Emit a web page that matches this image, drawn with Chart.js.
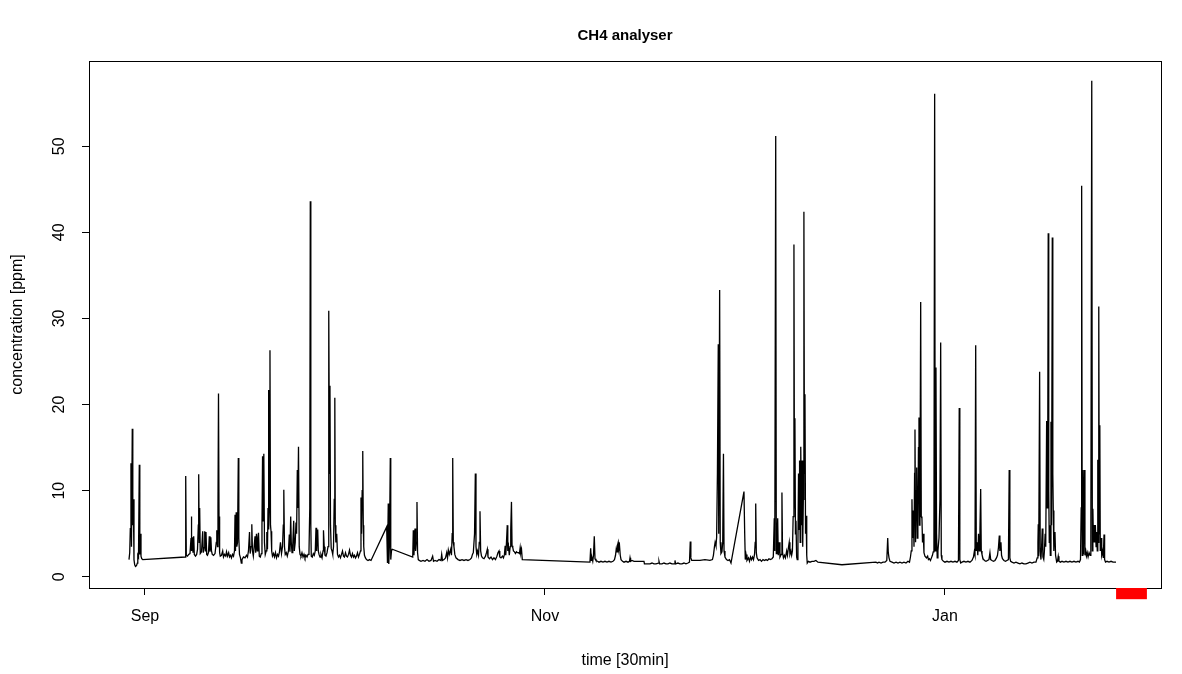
<!DOCTYPE html>
<html>
<head>
<meta charset="utf-8">
<script src="https://cdn.jsdelivr.net/npm/chart.js@4.4.1/dist/chart.umd.min.js"></script>
<style>
html, body { margin: 0; padding: 0; background: #fff; }
canvas { display: block; }
</style>
</head>
<body>
<canvas id="ch4" width="1182" height="674"></canvas>
<script>
// ── Labels / axes ──
var TITLE = "CH4 analyser";
var X_TITLE = "time [30min]";
var Y_TITLE = "concentration [ppm]";
var X_TICK_DAYS = [0, 61, 122];          // days after 1 Sep
var X_TICK_LABELS = ["Sep", "Nov", "Jan"];
var Y_TICKS = [0, 10, 20, 30, 40, 50];
var X_RANGE = [-8.54, 154.95];
var Y_RANGE = [-1.3, 59.9];
var RED_BAR_DAYS = [148.1, 152.8];
var RED_BAR_PPM = [-1.3, -2.6];

// ── Series: [day after 1 Sep, CH4 ppm] ──
var CH4_LATE_AUG = [
  [-2.44,2.0],[-2.33,2.8],[-2.24,5.6],[-2.14,13.2],[-2.06,3.5],[-1.94,17.2],[-1.86,6.0],[-1.78,9.0],
  [-1.68,2.0],[-1.57,1.4],[-1.45,1.2],[-1.30,1.3],[-1.17,1.6],[-1.10,2.5],[-0.99,2.3],[-0.87,13.0],
  [-0.79,2.6],[-0.72,5.0],[-0.61,2.4],[-0.50,2.1],[-0.35,2.0]
];
var CH4_SEP = [
  [6.15,2.3],[6.21,11.7],[6.30,2.5],[6.48,2.4],[6.66,2.6],[6.86,2.7],[7.02,4.5],[7.06,7.0],[7.14,3.0],
  [7.24,4.6],[7.32,2.8],[7.43,4.7],[7.52,2.6],[7.70,2.4],[7.88,2.6],[8.01,3.2],[8.13,6.0],[8.19,11.9],
  [8.27,4.0],[8.34,8.0],[8.43,2.7],[8.62,2.9],[8.80,5.3],[8.89,2.8],[9.00,3.4],[9.11,5.3],[9.21,3.0],
  [9.30,5.2],[9.41,2.6],[9.53,2.5],[9.68,2.8],[9.81,4.7],[9.91,2.9],[10.04,4.6],[10.14,3.0],[10.26,2.6],
  [10.45,2.5],[10.68,2.7],[10.87,4.0],[10.95,5.4],[11.06,3.5],[11.13,8.0],[11.21,21.3],[11.29,7.0],
  [11.38,2.8],[11.48,2.4],[11.67,2.5],[11.85,3.0],[11.97,2.3],[12.13,2.6],[12.31,2.4],[12.43,2.9],
  [12.58,2.4],[12.76,2.8],[12.89,2.3],[13.04,2.5],[13.19,2.2],[13.34,2.6],[13.50,2.4],[13.65,3.0],
  [13.73,7.2],[13.80,3.0],[13.91,7.5],[14.00,3.5],[14.11,4.0],[14.23,13.8],[14.31,4.5],[14.41,2.6],
  [14.56,2.2],[14.69,1.6],[14.79,2.0],[15.02,2.3],[15.25,2.2],[15.48,2.5],[15.63,2.3],[15.78,3.0],
  [15.94,5.2],[16.04,2.7],[16.17,3.5],[16.29,6.1],[16.39,3.0],[16.52,2.4],[16.65,3.5],[16.78,4.7],
  [16.88,2.8],[17.00,5.0],[17.11,3.0],[17.23,4.6],[17.31,5.1],[17.43,2.4],[17.58,2.3],[17.74,2.7],
  [17.84,6.0],[17.93,14.0],[18.02,6.5],[18.12,14.3],[18.22,4.0],[18.34,2.6],[18.48,3.0],[18.58,5.2],
  [18.68,3.2],[18.76,8.0],[18.82,21.7],[18.90,5.5],[18.99,9.0],[19.06,26.3],[19.14,6.0],[19.22,5.3],
  [19.32,3.0],[19.44,2.4],[19.60,2.7],[19.75,2.3],[19.90,2.8],[20.06,2.2],[20.21,2.6],[20.36,2.4],
  [20.51,2.9],[20.66,4.0],[20.82,2.7],[20.97,3.5],[21.09,6.0],[21.17,10.1],[21.27,3.5],[21.39,2.6],
  [21.55,2.8],[21.70,2.4],[21.88,3.0],[22.01,4.9],[22.11,2.9],[22.22,7.0],[22.31,4.0],[22.42,2.8],
  [22.54,3.8],[22.68,6.5],[22.77,3.0],[22.91,4.0],[23.03,6.3],[23.12,5.0],[23.23,12.4],[23.31,8.0],
  [23.41,15.1],[23.52,3.5],[23.64,2.6],[23.79,2.4],[23.94,2.8],[24.10,2.3],[24.25,2.6],[24.40,2.2],
  [24.55,2.5],[24.71,2.3],[24.86,2.6],[25.01,2.9],[25.13,8.0],[25.21,43.6],[25.29,6.0],[25.36,2.4],
  [25.51,2.3],[25.67,2.7],[25.82,2.5],[25.97,3.0],[26.08,5.7],[26.17,3.0],[26.26,4.5],[26.34,5.5],
  [26.43,3.0],[26.54,2.6],[26.69,2.3],[26.84,2.6],[27.00,2.2],[27.15,3.0],[27.22,5.4],[27.33,3.5],
  [27.45,2.5],[27.60,2.4],[27.76,2.8],[27.91,3.5],[27.99,7.0],[28.06,30.9],[28.14,12.0],[28.21,22.2],
  [28.29,6.0],[28.40,3.3],[28.52,3.0],[28.63,2.6],[28.75,3.5],[28.86,9.0],[28.95,20.8],[29.02,6.0],
  [29.11,4.0],[29.24,5.0],[29.36,2.6],[29.51,2.3],[29.66,2.5],[29.81,2.2],[29.97,2.6],[30.12,3.0],
  [30.27,2.4],[30.42,2.3],[30.58,2.8],[30.73,2.4],[30.88,2.3],[31.04,2.6],[31.19,3.1],[31.34,2.5],
  [31.49,2.3],[31.64,2.7],[31.80,2.3],[31.95,2.5],[32.10,2.2],[32.25,2.4],[32.41,2.8],[32.56,2.3],
  [32.71,2.6],[32.86,3.0],[32.94,9.2],[33.02,5.0],[33.12,10.0],[33.21,14.6],[33.29,6.0],[33.36,3.5],
  [33.47,2.5],[33.62,2.2],[33.78,2.0],[34.01,1.9],[34.24,2.0],[34.47,1.9]
];
var CH4_OCT = [
  [36.86,5.8],[36.98,1.6],[37.10,8.5],[37.18,1.5],[37.29,4.0],[37.41,13.8],[37.48,2.0],[37.59,3.0],
  [37.71,3.2],[40.83,2.3],[40.92,5.4],[41.02,2.5],[41.18,5.6],[41.27,3.0],[41.37,4.0],[41.48,8.7],
  [41.57,2.8],[41.68,2.0],[41.83,1.9],[42.09,1.8],[42.40,1.9],[42.70,1.8],[43.01,2.0],[43.31,1.8],
  [43.62,1.9],[43.87,2.4],[44.00,1.8],[44.23,1.9],[44.54,1.8],[44.84,2.0],[45.14,1.9],[45.25,2.6],
  [45.37,1.9],[45.60,2.0],[45.83,2.2],[46.01,2.8],[46.14,2.2],[46.26,3.1],[46.41,2.6],[46.62,3.2],
  [46.74,2.5],[46.85,5.0],[46.93,13.8],[47.02,4.0],[47.12,3.5],[47.25,2.6],[47.43,2.2],[47.74,2.0],
  [48.04,1.9],[48.35,2.0],[48.65,1.9],[48.96,2.0],[49.26,1.9],[49.56,2.0],[49.79,2.2],[49.94,2.6],
  [50.07,2.8],[50.26,5.0],[50.38,12.0],[50.48,3.5],[50.60,2.6],[50.71,3.0],[50.86,2.5],[50.98,4.0],
  [51.09,7.6],[51.19,3.0],[51.32,2.4],[51.47,2.2],[51.70,2.1],[51.93,2.4],[52.08,2.8],[52.21,3.2],
  [52.31,2.3],[52.54,2.1],[52.77,2.3],[53.00,2.0],[53.22,2.2],[53.45,2.0],[53.68,2.4],[53.83,2.8],
  [53.99,3.0],[54.11,2.3],[54.29,2.2],[54.52,2.4],[54.67,2.2],[54.82,2.6],[54.93,3.6],[55.02,2.5],
  [55.13,4.0],[55.25,6.0],[55.33,3.0],[55.44,3.5],[55.56,2.5],[55.69,3.5],[55.78,5.5],[55.89,8.7],
  [55.98,3.6],[56.09,3.4],[56.19,3.0],[56.35,2.9],[56.50,2.7],[56.65,2.9],[56.81,2.8],[56.96,2.8],
  [57.11,2.7],[57.22,3.4],[57.31,2.8],[57.42,3.2],[57.54,2.0]
];
var CH4_NOV = [
  [67.86,1.7],[67.97,3.3],[68.06,1.9],[68.17,2.2],[68.29,1.8],[68.40,2.5],[68.52,4.7],[68.63,2.1],
  [68.78,1.9],[69.01,1.8],[69.24,1.7],[69.54,1.8],[69.85,1.7],[70.15,1.8],[70.46,1.7],[70.76,1.8],
  [71.07,1.7],[71.37,1.8],[71.60,2.0],[71.76,2.5],[71.88,3.3],[71.99,2.9],[72.08,3.7],[72.17,4.0],
  [72.26,3.2],[72.37,3.6],[72.48,2.5],[72.60,2.0],[72.83,1.8],[73.05,1.7],[73.36,1.8],[73.66,1.7],
  [73.89,1.8],[73.97,2.2],[74.06,1.8],[74.27,1.9],[74.58,1.8],[74.88,1.8],[76.10,1.8],[76.17,1.5],
  [76.55,1.5],[77.01,1.5],[77.32,1.6],[77.62,1.5],[77.93,1.5],[78.31,1.6],[78.39,1.8],[78.48,1.5],
  [78.85,1.5],[79.15,1.6],[79.46,1.5],[79.76,1.5],[80.06,1.6],[80.37,1.5],[80.75,1.5],[80.83,1.9],
  [80.92,1.5],[81.28,1.6],[81.59,1.5],[81.89,1.5],[82.20,1.6],[82.50,1.5],[82.81,1.6],[83.04,1.7],
  [83.16,4.1],[83.25,2.2],[83.38,1.9],[83.88,1.9],[84.64,1.9],[85.40,2.0],[86.16,1.9],[86.54,2.0],
  [86.69,2.5],[86.85,3.5],[86.95,4.0],[87.08,3.6],[87.18,4.6],[87.30,12.0],[87.43,27.0],[87.50,5.0],
  [87.64,33.3],[87.73,4.0],[87.84,2.7],[87.99,2.9],[88.11,4.0],[88.22,14.3],[88.31,3.0],[88.45,2.3],
  [88.68,2.0],[88.91,1.9],[89.14,2.0],[89.37,1.6],[91.35,9.9],[91.46,5.0],[91.55,2.0],[91.66,2.6],
  [91.81,1.9],[92.04,2.2],[92.19,1.8],[92.35,2.3],[92.50,2.0],[92.65,2.3],[92.80,2.0],[92.96,2.6],
  [93.06,4.0],[93.14,8.5],[93.23,2.8],[93.34,2.2],[93.57,1.9],[93.80,2.0],[94.02,1.8],[94.25,2.0],
  [94.48,1.9],[94.71,2.0],[94.94,1.9],[95.16,2.1],[95.39,2.0],[95.62,2.1],[95.82,2.3],[95.97,6.8],
  [96.05,3.0],[96.19,51.2],[96.28,2.7],[96.38,3.2],[96.49,6.8],[96.58,2.5],[96.73,4.0],[96.84,2.3],
  [97.02,2.6],[97.14,9.8],[97.23,2.8],[97.37,2.2],[97.52,2.5],[97.67,2.2],[97.86,3.0],[97.98,2.5],
  [98.13,3.4],[98.25,4.0],[98.36,2.6],[98.51,3.0],[98.62,2.5],[98.74,3.0],[98.85,7.0],[98.97,38.6],
  [99.05,8.0],[99.12,18.4],[99.20,5.0],[99.28,6.5],[99.38,2.3],[99.47,2.0],[99.58,4.0],[99.67,12.0],
  [99.75,5.5],[99.83,13.5],[99.92,4.0],[100.01,15.1],[100.12,6.0],[100.22,13.5],[100.31,3.5],
  [100.40,9.0],[100.49,42.4],[100.57,12.0],[100.65,21.2],[100.74,5.0],[100.83,7.1],[100.92,2.5],
  [101.00,1.6],[101.18,1.8],[101.41,1.7],[101.71,1.8],[102.02,1.8],[102.32,1.9],[102.63,1.7]
];
var CH4_DEC = [
  [106.29,1.4],[111.48,1.7],[111.71,1.6],[111.94,1.7],[112.25,1.6],[112.55,1.7],[112.86,1.7],
  [113.13,1.9],[113.27,4.5],[113.36,2.8],[113.47,2.2],[113.62,1.8],[113.93,1.7],[114.23,1.6],
  [114.54,1.7],[114.84,1.6],[115.14,1.7],[115.45,1.6],[115.75,1.7],[116.06,1.6],[116.36,1.8],
  [116.59,1.7],[116.74,2.3],[116.86,3.0],[116.97,9.0],[117.05,4.5],[117.17,7.7],[117.28,3.5],
  [117.37,12.0],[117.43,17.1],[117.52,4.0],[117.61,10.0],[117.69,12.7],[117.78,4.5],[117.87,6.0],
  [117.96,15.0],[118.04,18.5],[118.11,6.0],[118.19,8.0],[118.30,31.9],[118.39,7.0],[118.49,6.8],
  [118.58,4.0],[118.69,5.0],[118.80,2.8],[118.95,2.4],[119.18,2.2],[119.36,2.4],[119.48,2.0],
  [119.63,2.1],[119.79,1.9],[119.94,2.2],[120.09,2.5],[120.21,2.9],[120.32,5.0],[120.43,56.1],
  [120.52,3.0],[120.63,24.3],[120.72,5.0],[120.82,2.2],[120.93,3.0],[121.09,4.5],[121.24,9.0],
  [121.35,27.2],[121.44,2.5],[121.54,2.0],[121.77,1.8]
];
var CH4_JAN = [
  [122.00,1.7],[122.31,1.8],[122.61,1.7],[122.92,1.8],[123.22,1.7],[123.53,1.8],[123.83,1.7],
  [124.06,1.9],[124.18,19.6],[124.27,2.0],[124.40,1.6],[124.59,1.7],[124.90,1.8],[125.20,1.7],
  [125.51,1.8],[125.81,1.7],[126.12,1.9],[126.35,2.3],[126.47,2.9],[126.58,2.5],[126.69,26.9],
  [126.78,3.0],[126.89,4.0],[127.01,2.5],[127.12,5.0],[127.24,3.0],[127.34,5.5],[127.45,10.2],
  [127.54,3.0],[127.65,2.6],[127.80,2.1],[128.03,1.9],[128.26,1.8],[128.49,1.9],[128.71,2.0],
  [128.86,2.8],[128.97,2.0],[129.17,1.9],[129.40,1.8],[129.63,1.9],[129.86,2.2],[130.01,2.5],
  [130.16,3.4],[130.29,4.8],[130.38,3.0],[130.46,3.6],[130.54,4.0],[130.63,2.5],[130.77,2.1],
  [131.00,1.9],[131.23,1.8],[131.45,1.9],[131.68,2.0],[131.80,12.4],[131.90,2.2],[132.02,1.8],
  [132.22,1.7],[132.53,1.6],[132.83,1.7],[133.14,1.6],[133.44,1.5],[133.74,1.6],[134.05,1.5],
  [134.35,1.5],[134.66,1.6],[134.96,1.7],[135.27,1.6],[135.57,1.7],[135.88,1.7],[136.07,2.2],
  [136.18,4.0],[136.23,6.1],[136.30,2.4],[136.44,23.8],[136.53,3.0],[136.64,2.0],[136.74,3.5],
  [136.84,5.6],[136.94,2.3],[137.07,2.0],[137.17,3.0],[137.28,5.0],[137.37,3.5],[137.51,18.1],
  [137.58,8.0],[137.68,15.0],[137.75,39.9],[137.83,10.0],[137.91,4.0],[137.98,6.0],[138.07,2.5],
  [138.17,18.0],[138.26,6.0],[138.37,39.4],[138.45,12.0],[138.52,7.7],[138.61,3.0],[138.70,5.0],
  [138.78,5.2],[138.87,2.5],[139.04,1.7],[139.16,1.8],[139.28,2.4],[139.39,1.8],[139.62,1.7],
  [139.85,1.8],[140.15,1.7],[140.46,1.8],[140.76,1.7],[141.07,1.8],[141.37,1.7],[141.68,1.8],
  [141.98,1.7],[142.29,1.8],[142.51,1.7],[142.67,2.0],[142.78,8.0],[142.85,45.4],[142.94,2.5],
  [143.03,12.4],[143.12,2.6],[143.25,12.4],[143.35,2.5],[143.48,3.0],[143.58,2.4],[143.70,2.8],
  [143.83,2.3],[143.98,2.8],[144.13,2.5],[144.25,4.0],[144.39,57.6],[144.48,3.0],[144.56,7.9],
  [144.65,4.0],[144.75,6.0],[144.84,4.0],[144.94,6.0],[145.05,3.5],[145.16,5.2],[145.23,3.0],
  [145.31,13.6],[145.39,4.0],[145.46,31.4],[145.54,5.0],[145.62,17.6],[145.69,3.0],[145.80,4.5],
  [145.91,2.5],[146.06,3.0],[146.15,2.2],[146.26,4.9],[146.35,2.0],[146.49,1.7],[146.72,1.8],
  [147.02,1.7],[147.33,1.8],[147.63,1.7],[147.94,1.7],[148.09,1.7]
];

var FONT_FAMILY = '"Liberation Sans", Arial, Helvetica, sans-serif';

function _toPoints() {
  var all = [].concat(CH4_LATE_AUG, CH4_SEP, CH4_OCT, CH4_NOV, CH4_DEC, CH4_JAN);
  return all.map(function(p) { return { x: p[0], y: p[1] }; });
}

// Frame, axis texts (R-style rotated y labels) and the red marker
var rDecor = {
  id: "rDecor",
  afterDraw: function(chart) {
    var ctx = chart.ctx, a = chart.chartArea;
    var xs = chart.scales.x, ys = chart.scales.y;
    var midX = (a.left + a.right) / 2;
    ctx.save();
    ctx.strokeStyle = "#000";
    ctx.lineWidth = 1;
    ctx.strokeRect(Math.round(a.left) + 0.5, Math.round(a.top) + 0.5,
      Math.round(a.right - a.left), Math.round(a.bottom - a.top));

    ctx.fillStyle = "#000";
    ctx.textAlign = "center";
    ctx.textBaseline = "middle";
    ctx.font = "16px " + FONT_FAMILY;
    X_TICK_DAYS.forEach(function(d, i) {
      ctx.fillText(X_TICK_LABELS[i], xs.getPixelForValue(d), a.bottom + 29);
    });
    ctx.fillText(X_TITLE, midX, a.bottom + 73);
    Y_TICKS.forEach(function(v) {
      ctx.save();
      ctx.translate(a.left - 29, ys.getPixelForValue(v));
      ctx.rotate(-Math.PI / 2);
      ctx.fillText(String(v), 0, 0);
      ctx.restore();
    });
    ctx.save();
    ctx.translate(18, (a.top + a.bottom) / 2);
    ctx.rotate(-Math.PI / 2);
    ctx.fillText(Y_TITLE, 0, 0);
    ctx.restore();

    ctx.font = "bold 15px " + FONT_FAMILY;
    ctx.fillText(TITLE, midX, 36);

    ctx.fillStyle = "#ff0000";
    var x0 = xs.getPixelForValue(RED_BAR_DAYS[0]), x1 = xs.getPixelForValue(RED_BAR_DAYS[1]);
    var y0 = ys.getPixelForValue(RED_BAR_PPM[0]), y1 = ys.getPixelForValue(RED_BAR_PPM[1]);
    ctx.fillRect(x0, y0, x1 - x0, y1 - y0);
    ctx.restore();
  }
};

new Chart(document.getElementById("ch4").getContext("2d"), {
  type: "line",
  data: {
    datasets: [{
      label: "CH4",
      data: _toPoints(),
      borderColor: "#000",
      borderWidth: 1.3,
      pointRadius: 0,
      tension: 0,
      fill: false
    }]
  },
  options: {
    responsive: false,
    animation: false,
    devicePixelRatio: 1,
    parsing: false,
    layout: { padding: { left: 0, top: 61, right: 21, bottom: 0 } },
    plugins: { legend: { display: false }, tooltip: { enabled: false }, title: { display: false } },
    scales: {
      x: {
        type: "linear",
        min: X_RANGE[0],
        max: X_RANGE[1],
        afterBuildTicks: function(s) { s.ticks = X_TICK_DAYS.map(function(v) { return { value: v }; }); },
        afterFit: function(s) { s.height = 86; },
        ticks: { display: false },
        grid: { display: true, drawOnChartArea: false, drawTicks: true, tickLength: 7, color: "#000", lineWidth: 1 },
        border: { display: false }
      },
      y: {
        type: "linear",
        min: Y_RANGE[0],
        max: Y_RANGE[1],
        afterBuildTicks: function(s) { s.ticks = Y_TICKS.map(function(v) { return { value: v }; }); },
        afterFit: function(s) { s.width = 89; },
        ticks: { display: false },
        grid: { display: true, drawOnChartArea: false, drawTicks: true, tickLength: 7, color: "#000", lineWidth: 1 },
        border: { display: false }
      }
    }
  },
  plugins: [rDecor]
});
</script>
</body>
</html>
